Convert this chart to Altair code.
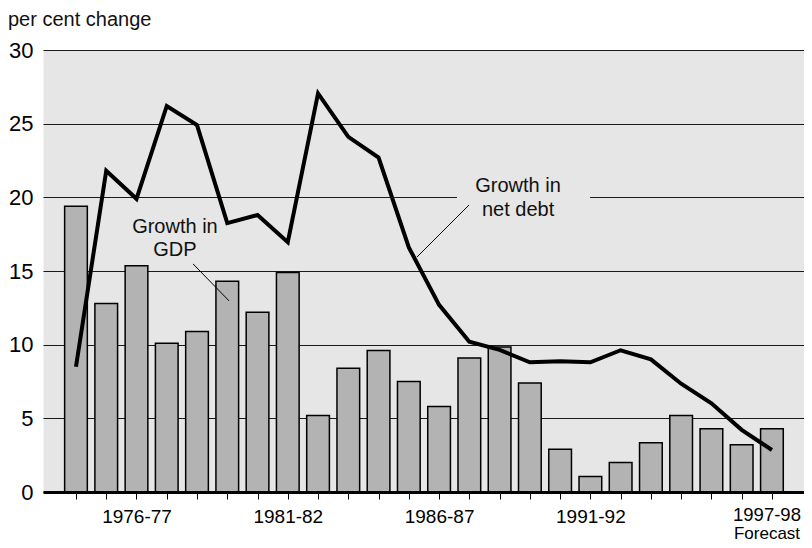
import altair as alt
import pandas as pd

years = ["1974-75", "1975-76", "1976-77", "1977-78", "1978-79", "1979-80",
         "1980-81", "1981-82", "1982-83", "1983-84", "1984-85", "1985-86",
         "1986-87", "1987-88", "1988-89", "1989-90", "1990-91", "1991-92",
         "1992-93", "1993-94", "1994-95", "1995-96", "1996-97", "1997-98"]
gdp_growth = [19.4, 12.8, 15.35, 10.1, 10.9, 14.3, 12.2, 14.9, 5.2, 8.4,
              9.6, 7.5, 5.8, 9.1, 9.85, 7.4, 2.9, 1.05, 2.0, 3.35, 5.2, 4.3,
              3.2, 4.3]
debt_growth = [8.5, 21.8, 19.9, 26.2, 24.9, 18.25, 18.8, 16.95, 27.05, 24.1,
               22.7, 16.6, 12.7, 10.2, 9.65, 8.8, 8.87, 8.8, 9.62, 9.0, 7.35,
               6.02, 4.22, 2.85]
shown_labels = ["1976-77", "1981-82", "1986-87", "1991-92"]
last_label = ["1997-98", "Forecast"]
y_title = "per cent change"

# annotations (positions in data units: x = year index, y = per cent)
ann_text = ["Growth in", "GDP", "Growth in", "net debt"]
ann_x = [3.27, 3.27, 14.61, 14.61]
ann_y = [18.0, 16.43, 20.77, 19.14]
leader_x = [3.87, 11.27]
leader_x2 = [5.06, 12.99]
leader_y = [15.48, 15.95]
leader_y2 = [12.97, 19.48]
box_x, box_x2, box_y, box_y2 = [12.59], [16.99], [18.5], [21.5]

FONT = "Liberation Sans"
BG = "#e6e6e6"
W, H = 761, 442

df = pd.DataFrame({"idx": list(range(len(years))), "year": years,
                   "gdp": gdp_growth, "debt": debt_growth})
ann = pd.DataFrame({"x": ann_x, "y": ann_y, "text": ann_text})
leaders = pd.DataFrame({"x": leader_x, "x2": leader_x2, "y": leader_y, "y2": leader_y2})
box = pd.DataFrame({"x": box_x, "x2": box_x2, "y": box_y, "y2": box_y2})
last_df = pd.DataFrame({"t": last_label, "line": [0, 1], "fs": [18.5, 17]})

label_expr_parts = []
for i, yr in enumerate(years):
    if yr in shown_labels:
        label_expr_parts.append(f"datum.value == {i} ? '{yr}'")
label_expr = " : ".join(label_expr_parts) + " : ''"

xscale = alt.Scale(domain=[-1.09, 24.06], nice=False, zero=False)
yscale = alt.Scale(domain=[0, 30], nice=False)

xaxis = alt.Axis(values=list(range(len(years))), labelExpr=label_expr, title=None,
                 grid=False, domain=True, domainColor="black", domainWidth=3,
                 ticks=True, tickSize=7, tickColor="black", tickWidth=1,
                 labelFont=FONT, labelFontSize=19, labelColor="black",
                 labelPadding=8, labelOverlap=False, labelFlush=False,
                 labelBound=False, zindex=1)
yaxis = alt.Axis(values=[0, 5, 10, 15, 20, 25, 30], title=None, domain=False,
                 ticks=False, grid=True, gridColor="#1a1a1a", gridWidth=1.2,
                 labelFont=FONT, labelFontSize=22, labelColor="black",
                 labelPadding=10)

bars = alt.Chart(df).transform_calculate(
    x0="datum.idx - 0.375", x1="datum.idx + 0.375"
).mark_bar(fill="#b3b3b3", stroke="black", strokeWidth=1.5).encode(
    x=alt.X("x0:Q", scale=xscale, axis=xaxis),
    x2="x1:Q",
    y=alt.Y("gdp:Q", scale=yscale, axis=yaxis),
    y2=alt.Y2(datum=0),
)

line = alt.Chart(df).mark_line(color="black", strokeWidth=4, strokeJoin="miter").encode(
    x=alt.X("idx:Q", scale=xscale, axis=xaxis),
    y=alt.Y("debt:Q", scale=yscale, axis=yaxis),
)

bg_box = alt.Chart(box).mark_rect(fill=BG).encode(
    x=alt.X("x:Q", scale=xscale, axis=xaxis), x2="x2:Q",
    y=alt.Y("y:Q", scale=yscale, axis=yaxis), y2="y2:Q",
)

leader = alt.Chart(leaders).mark_rule(color="black", strokeWidth=1).encode(
    x=alt.X("x:Q", scale=xscale, axis=xaxis), x2="x2:Q",
    y=alt.Y("y:Q", scale=yscale, axis=yaxis), y2="y2:Q",
)

ann_marks = alt.Chart(ann).mark_text(font=FONT, fontSize=20, color="#111",
                                     align="center", baseline="middle").encode(
    x=alt.X("x:Q", scale=xscale, axis=xaxis),
    y=alt.Y("y:Q", scale=yscale, axis=yaxis),
    text="text:N",
)

title_mark = alt.Chart(pd.DataFrame({"t": [y_title]})).mark_text(
    font=FONT, fontSize=20, color="#111", align="left", baseline="middle"
).encode(x=alt.value(-35), y=alt.value(-30), text="t:N")

last_marks = alt.Chart(last_df).transform_calculate(
    py=f"{H} + 23 + datum.line * 18.5"
).mark_text(
    font=FONT, color="black", align="center", baseline="middle"
).encode(x=alt.value(W - 37), y=alt.Y("py:Q", scale=None), text="t:N",
         size=alt.Size("fs:Q", scale=None, legend=None))

chart = alt.layer(bars, bg_box, leader, line, ann_marks, title_mark, last_marks).properties(
    width=W, height=H,
    autosize=alt.AutoSizeParams(type="none"),
    padding={"left": 35, "top": 42, "right": 0, "bottom": 50},
).configure_view(fill=BG, stroke="transparent").configure_axis(labelOverlap=False)

chart.save("out.html", embed_options={"renderer": "svg", "actions": False})
